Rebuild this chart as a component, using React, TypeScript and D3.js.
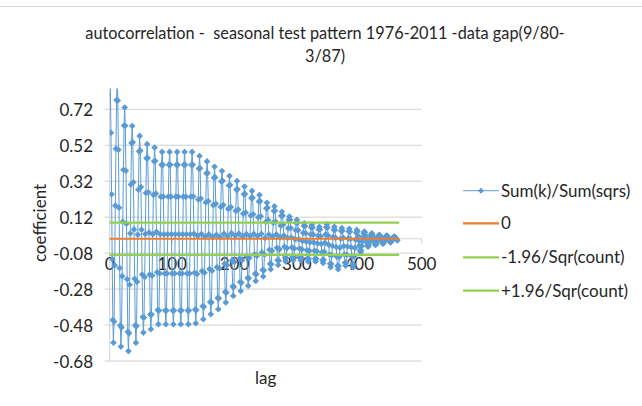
import React from "react";
import * as d3 from "d3";

const W = 642;
const H = 406;

// Sum(k)/Sum(sqrs) for lag 0,1,2,...
const acf: number[] = [
  1.000, 0.882, 0.590, 0.247, -0.113, -0.452, -0.578, -0.461, -0.148, 0.184, 0.501, 0.771,
  0.880, 0.769, 0.495, 0.173, -0.163, -0.482, -0.600, -0.494, -0.208, 0.095, 0.384, 0.630,
  0.730, 0.628, 0.378, 0.083, -0.225, -0.517, -0.625, -0.525, -0.256, 0.029, 0.302, 0.533,
  0.627, 0.537, 0.314, 0.052, -0.223, -0.482, -0.578, -0.486, -0.239, 0.023, 0.273, 0.486,
  0.572, 0.490, 0.288, 0.050, -0.199, -0.435, -0.522, -0.438, -0.213, 0.026, 0.254, 0.447,
  0.526, 0.449, 0.258, 0.035, -0.199, -0.421, -0.503, -0.422, -0.205, 0.025, 0.244, 0.431,
  0.507, 0.433, 0.251, 0.038, -0.186, -0.397, -0.476, -0.399, -0.193, 0.025, 0.234, 0.411,
  0.483, 0.411, 0.234, 0.025, -0.193, -0.399, -0.476, -0.399, -0.193, 0.025, 0.234, 0.411,
  0.483, 0.411, 0.234, 0.025, -0.193, -0.399, -0.476, -0.399, -0.193, 0.025, 0.234, 0.411,
  0.483, 0.411, 0.234, 0.025, -0.193, -0.399, -0.476, -0.399, -0.193, 0.025, 0.234, 0.411,
  0.483, 0.411, 0.234, 0.025, -0.193, -0.399, -0.476, -0.399, -0.193, 0.025, 0.234, 0.411,
  0.483, 0.412, 0.235, 0.028, -0.189, -0.394, -0.470, -0.396, -0.196, 0.016, 0.218, 0.390,
  0.460, 0.392, 0.224, 0.026, -0.180, -0.375, -0.448, -0.378, -0.189, 0.011, 0.202, 0.364,
  0.430, 0.366, 0.209, 0.024, -0.169, -0.352, -0.420, -0.354, -0.178, 0.009, 0.187, 0.339,
  0.400, 0.341, 0.194, 0.022, -0.158, -0.329, -0.392, -0.331, -0.165, 0.010, 0.177, 0.319,
  0.377, 0.322, 0.187, 0.028, -0.139, -0.296, -0.355, -0.299, -0.147, 0.013, 0.166, 0.296,
  0.349, 0.299, 0.176, 0.031, -0.121, -0.265, -0.318, -0.267, -0.130, 0.016, 0.155, 0.273,
  0.321, 0.275, 0.162, 0.029, -0.110, -0.241, -0.290, -0.244, -0.119, 0.013, 0.139, 0.247,
  0.290, 0.249, 0.146, 0.026, -0.099, -0.218, -0.262, -0.220, -0.106, 0.014, 0.129, 0.226,
  0.266, 0.228, 0.136, 0.027, -0.087, -0.195, -0.235, -0.197, -0.094, 0.015, 0.119, 0.207,
  0.243, 0.209, 0.125, 0.027, -0.076, -0.174, -0.210, -0.177, -0.089, 0.004, 0.093, 0.169,
  0.200, 0.172, 0.104, 0.023, -0.061, -0.140, -0.170, -0.142, -0.067, 0.013, 0.089, 0.154,
  0.180, 0.156, 0.095, 0.024, -0.050, -0.120, -0.146, -0.122, -0.059, 0.009, 0.073, 0.128,
  0.150, 0.129, 0.078, 0.018, -0.045, -0.105, -0.127, -0.107, -0.053, 0.004, 0.058, 0.104,
  0.123, 0.105, 0.060, 0.007, -0.048, -0.101, -0.120, -0.102, -0.054, -0.002, 0.047, 0.088,
  0.105, 0.088, 0.047, -0.002, -0.054, -0.102, -0.120, -0.104, -0.059, -0.012, 0.032, 0.071,
  0.086, 0.070, 0.031, -0.016, -0.064, -0.110, -0.127, -0.111, -0.067, -0.020, 0.024, 0.062,
  0.077, 0.062, 0.024, -0.020, -0.067, -0.111, -0.127, -0.111, -0.070, -0.026, 0.017, 0.052,
  0.067, 0.052, 0.014, -0.029, -0.075, -0.119, -0.135, -0.118, -0.072, -0.023, 0.024, 0.064,
  0.080, 0.062, 0.018, -0.034, -0.088, -0.139, -0.158, -0.140, -0.092, -0.040, 0.009, 0.050,
  0.067, 0.049, 0.005, -0.046, -0.100, -0.151, -0.170, -0.152, -0.102, -0.050, 0.000, 0.043,
  0.060, 0.044, 0.005, -0.040, -0.088, -0.133, -0.150, -0.134, -0.090, -0.043, 0.002, 0.040,
  0.055, 0.039, -0.001, -0.048, -0.097, -0.143, -0.160, -0.143, -0.098, -0.051, -0.005, 0.033,
  0.049, 0.040, 0.017, -0.010, -0.038, -0.065, -0.075, -0.066, -0.041, -0.015, 0.010, 0.031,
  0.040, 0.034, 0.018, 0.000, -0.019, -0.037, -0.044, -0.038, -0.022, -0.005, 0.011, 0.025,
  0.030, 0.025, 0.013, -0.001, -0.016, -0.030, -0.035, -0.030, -0.018, -0.005, 0.007, 0.018,
  0.022, 0.018, 0.009, -0.002, -0.013, -0.024, -0.028, -0.024, -0.014, -0.004, 0.006, 0.015,
  0.018, 0.015, 0.008, 0.000, -0.009, -0.017, -0.020, -0.017, -0.011, -0.003, 0.004, 0.010,
  0.012, 0.010, 0.006, 0.001, -0.005, -0.010,
];

const seriesName = "Sum(k)/Sum(sqrs)";
const refNames = ["0", "-1.96/Sqr(count)", "+1.96/Sqr(count)"];
const refValues = [0, -0.09, 0.09];
const refColors = ["#ED7D31", "#92D050", "#92D050"];
const refLastLag = 464;

const yTickValues = [0.72, 0.52, 0.32, 0.12, -0.08, -0.28, -0.48, -0.68];
const yTickLabels = ["0.72", "0.52", "0.32", "0.12", "-0.08", "-0.28", "-0.48", "-0.68"];
const xTickValues = [0, 100, 200, 300, 400, 500];
const xTickLabels = ["0", "100", "200", "300", "400", "500"];

const titleLines = [
  "autocorrelation -  seasonal test pattern 1976-2011 -data gap(9/80-",
  "3/87)",
];
const xTitle = "lag";
const yTitle = "coefficient";

const FONT = "Lato, 'Open Sans', sans-serif";
const TEXT = "#262626";
const BLUE = "#5B9BD5";
const GRID = "#D0D0D0";

const plot = { left: 109.7, right: 421.7, top: 88.6, bottom: 361 };

function diamond(cx: number, cy: number, r: number) {
  return `M${cx},${cy - r}L${cx + r},${cy}L${cx},${cy + r}L${cx - r},${cy}Z`;
}

export default function App() {
  const x = d3.scaleLinear().domain([0, 500]).range([plot.left, plot.right]);
  const y = d3.scaleLinear().domain([-0.68, 0.835]).range([plot.bottom, plot.top]);

  const line = d3
    .line<number>()
    .x((_, i) => x(i))
    .y((d) => y(d));

  const legendX0 = 463;
  const legendX1 = 499;
  const legendRows = [190.7, 223.3, 257.3, 290.7];

  return (
    <svg
      width={W}
      height={H}
      viewBox={`0 0 ${W} ${H}`}
      style={{ position: "absolute", left: 0, top: 0, background: "#fff" }}
      fontFamily={FONT}
    >
      <rect x={0} y={0} width={W} height={H} fill="#fff" />
      <line x1={0} x2={W} y1={6.5} y2={6.5} stroke="#D9D9D9" strokeWidth={1} />

      <defs>
        <clipPath id="plotClip">
          <rect
            x={plot.left}
            y={plot.top}
            width={plot.right - plot.left + 2}
            height={plot.bottom - plot.top}
          />
        </clipPath>
      </defs>

      {/* title */}
      {titleLines.map((t, i) => (
        <text
          key={i}
          x={325}
          y={39 + i * 23}
          textAnchor="middle"
          fontSize={16.3}
          fill={TEXT}
          style={{ whiteSpace: "pre" }}
        >
          {t}
        </text>
      ))}

      {/* gridlines + y ticks */}
      {yTickValues.map((v, i) => (
        <g key={i}>
          <line
            x1={plot.left - 5}
            x2={plot.right}
            y1={y(v)}
            y2={y(v)}
            stroke={GRID}
            strokeWidth={1}
          />
          <text
            x={93}
            y={y(v) + 6.5}
            textAnchor="end"
            fontSize={17}
            fill={TEXT}
          >
            {yTickLabels[i]}
          </text>
        </g>
      ))}

      {/* y axis line */}
      <line
        x1={plot.left}
        x2={plot.left}
        y1={plot.top}
        y2={plot.bottom}
        stroke={GRID}
        strokeWidth={1}
      />

      {/* x axis at 0 */}
      <line
        x1={plot.left}
        x2={plot.right}
        y1={y(0)}
        y2={y(0)}
        stroke={GRID}
        strokeWidth={1}
      />
      {xTickValues.map((v, i) => (
        <g key={i}>
          <line
            x1={x(v)}
            x2={x(v)}
            y1={y(0)}
            y2={y(0) + 5}
            stroke={GRID}
            strokeWidth={1}
          />
          <text
            x={x(v)}
            y={270}
            textAnchor="middle"
            fontSize={17}
            fill={TEXT}
          >
            {xTickLabels[i]}
          </text>
        </g>
      ))}

      {/* data series */}
      <g clipPath="url(#plotClip)">
        <path d={line(acf) || ""} fill="none" stroke={BLUE} strokeWidth={1} />
        {acf.map((v, i) => (
          <path key={i} d={diamond(x(i), y(v), 3.3)} fill={BLUE} />
        ))}
      </g>

      {/* reference lines */}
      {refValues.map((v, i) => (
        <line
          key={i}
          x1={x(0)}
          x2={x(refLastLag)}
          y1={y(v)}
          y2={y(v)}
          stroke={refColors[i]}
          strokeWidth={2.2}
        />
      ))}

      {/* axis titles */}
      <text
        x={x(250)}
        y={384}
        textAnchor="middle"
        fontSize={17}
        fill={TEXT}
      >
        {xTitle}
      </text>
      <text
        transform={`translate(46,223) rotate(-90)`}
        textAnchor="middle"
        fontSize={17}
        fill={TEXT}
      >
        {yTitle}
      </text>

      {/* legend */}
      <g>
        <line
          x1={legendX0}
          x2={legendX1}
          y1={legendRows[0]}
          y2={legendRows[0]}
          stroke={BLUE}
          strokeWidth={1}
        />
        <path d={diamond((legendX0 + legendX1) / 2, legendRows[0], 3)} fill={BLUE} />
        <text x={501} y={legendRows[0] + 6} fontSize={17} fill={TEXT}>
          {seriesName}
        </text>
        {refNames.map((n, i) => (
          <g key={i}>
            <line
              x1={legendX0}
              x2={legendX1}
              y1={legendRows[i + 1]}
              y2={legendRows[i + 1]}
              stroke={refColors[i]}
              strokeWidth={2.2}
            />
            <text x={501} y={legendRows[i + 1] + 6} fontSize={17} fill={TEXT}>
              {n}
            </text>
          </g>
        ))}
      </g>
    </svg>
  );
}
